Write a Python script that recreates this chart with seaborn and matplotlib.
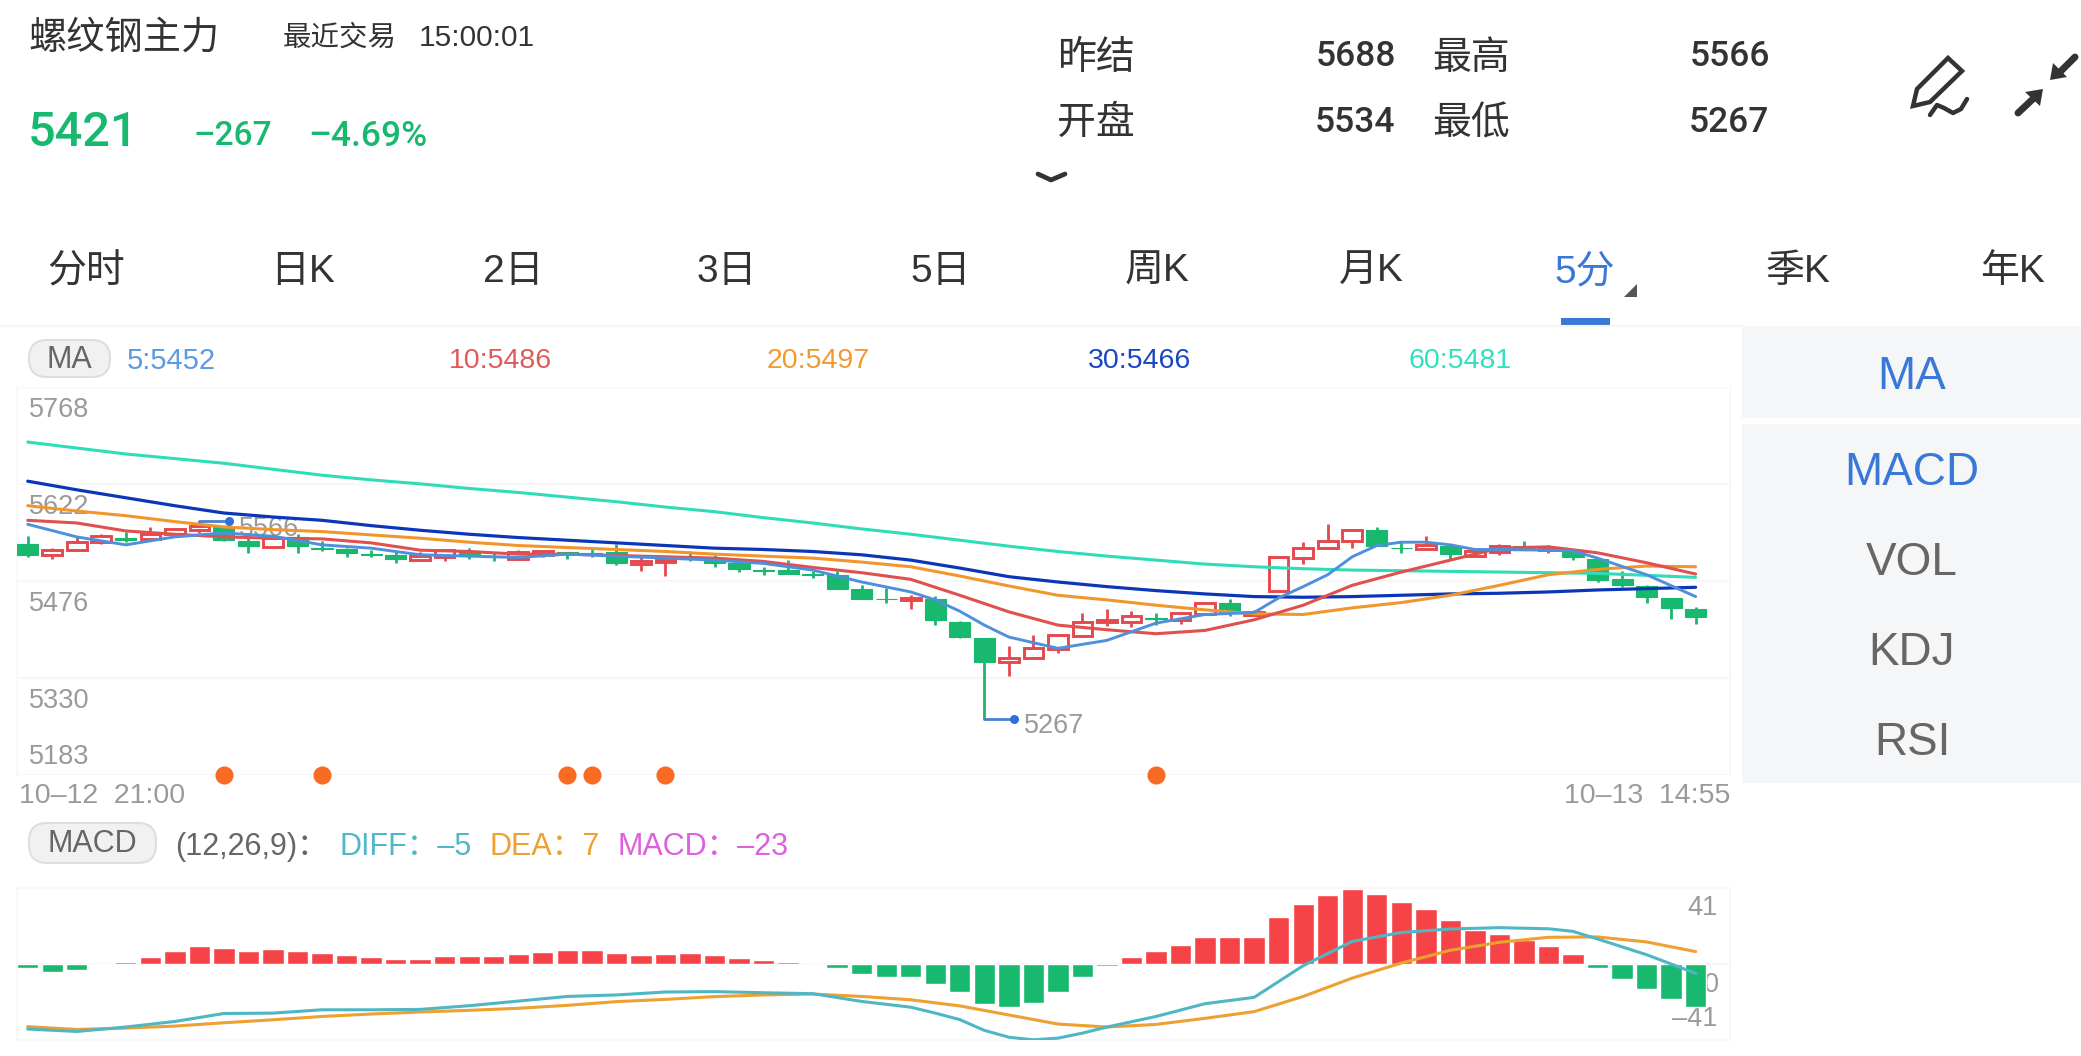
import pandas as pd
import matplotlib
matplotlib.use("Agg")
import matplotlib.pyplot as plt
from matplotlib.patches import FancyBboxPatch, Polygon, Rectangle
import seaborn as sns

W, H = 2081, 1056

# candles, one per 5 minutes
opens = [5532, 5514, 5522, 5535, 5541, 5539, 5546, 5552, 5557, 5536, 5527, 5542, 5526, 5523, 5516, 5514, 5507,
         5511, 5520, 5513, 5509, 5515, 5519, 5517, 5519, 5501, 5504, 5512, 5510, 5502, 5492, 5492, 5486, 5485,
         5463, 5449, 5447, 5448, 5414, 5390, 5354, 5359, 5373, 5393, 5413, 5414, 5419, 5417, 5425, 5442, 5424,
         5460, 5510, 5525, 5536, 5552, 5526, 5524, 5529, 5513, 5519, 5528, 5522, 5522, 5508, 5478, 5468, 5450, 5434]
closes = [5515, 5522, 5534, 5543, 5538, 5547, 5554, 5558, 5537, 5528, 5541, 5528, 5523, 5518, 5515, 5508, 5513,
          5522, 5513, 5512, 5519, 5520, 5518, 5516, 5502, 5506, 5507, 5508, 5502, 5494, 5491, 5486, 5485, 5464,
          5449, 5448, 5450, 5416, 5391, 5354, 5360, 5374, 5394, 5414, 5417, 5422, 5418, 5428, 5443, 5429, 5429,
          5511, 5525, 5536, 5553, 5528, 5525, 5530, 5516, 5520, 5528, 5522, 5526, 5511, 5477, 5470, 5451, 5435, 5421]
highs = [5543, 5526, 5544, 5547, 5549, 5557, 5555, 5566, 5558, 5540, 5542, 5547, 5536, 5525, 5522, 5520, 5519,
         5523, 5525, 5517, 5522, 5520, 5519, 5525, 5531, 5511, 5510, 5521, 5514, 5502, 5496, 5507, 5491, 5490,
         5469, 5465, 5454, 5453, 5415, 5390, 5378, 5394, 5394, 5428, 5433, 5431, 5427, 5428, 5443, 5448, 5432,
         5511, 5534, 5562, 5553, 5557, 5534, 5543, 5529, 5521, 5531, 5536, 5530, 5522, 5509, 5490, 5470, 5450, 5436]
lows = [5511, 5508, 5522, 5532, 5534, 5537, 5545, 5548, 5536, 5517, 5527, 5518, 5520, 5511, 5511, 5503, 5507,
        5505, 5509, 5506, 5507, 5511, 5509, 5512, 5500, 5491, 5483, 5505, 5496, 5489, 5484, 5486, 5480, 5464,
        5449, 5443, 5434, 5409, 5390, 5267, 5332, 5359, 5367, 5393, 5408, 5406, 5409, 5410, 5425, 5422, 5423,
        5460, 5501, 5525, 5525, 5528, 5517, 5524, 5507, 5512, 5515, 5522, 5517, 5507, 5474, 5467, 5443, 5418, 5411]

# moving averages
ma5_idx = [0, 2, 4, 6, 8, 10, 12, 14, 16, 18, 20, 22, 24, 26, 28, 30, 32, 34, 36, 37, 38, 39, 40, 42, 44, 46, 48,
           50, 51, 52, 53, 54, 55, 56, 57, 58, 59, 60, 62, 63, 64, 66, 68]
ma5 = [5561, 5542, 5530, 5542, 5548, 5543, 5530, 5525, 5515, 5513, 5511, 5516, 5513, 5510, 5507, 5502, 5492, 5474,
       5459, 5447, 5430, 5409, 5391, 5374, 5386, 5412, 5425, 5428, 5450, 5467, 5485, 5512, 5529, 5534, 5534, 5530,
       5523, 5523, 5522, 5521, 5510, 5485, 5452]
ma_idx = list(range(0, 69, 2))
ma10 = [5567, 5563, 5551, 5546, 5542, 5540, 5539, 5533, 5522, 5520, 5516, 5516, 5514, 5512, 5510, 5505, 5496, 5488,
        5478, 5454, 5429, 5409, 5402, 5396, 5401, 5417, 5439, 5469, 5489, 5507, 5525, 5527, 5518, 5503, 5486]
ma20 = [5589, 5581, 5574, 5565, 5557, 5553, 5550, 5545, 5540, 5534, 5529, 5526, 5523, 5520, 5516, 5513, 5510, 5504,
        5497, 5483, 5468, 5454, 5447, 5439, 5432, 5426, 5425, 5435, 5443, 5454, 5469, 5485, 5493, 5498, 5497]
ma30 = [5626, 5613, 5601, 5589, 5578, 5572, 5567, 5559, 5552, 5546, 5541, 5537, 5533, 5529, 5525, 5523, 5520, 5515,
        5507, 5495, 5482, 5474, 5467, 5461, 5456, 5452, 5451, 5452, 5454, 5456, 5457, 5459, 5462, 5464, 5466]
ma60 = [5685, 5676, 5667, 5660, 5653, 5644, 5635, 5628, 5622, 5615, 5609, 5602, 5595, 5587, 5580, 5571, 5563, 5554,
        5546, 5537, 5528, 5520, 5513, 5507, 5501, 5497, 5494, 5492, 5491, 5490, 5489, 5488, 5487, 5484, 5481]

price_ticks = [5768, 5622, 5476, 5330, 5183]
signal_idx = [8, 12, 22, 23, 26, 46]

# MACD panel
macd = [-2.2, -4.1, -3.1, -0.4, 1.3, 4, 7.2, 9.9, 8.8, 7.2, 8.3, 7, 5.9, 4.7, 3.8, 2.7, 2.9, 4.5, 4.5, 4.5, 5.6, 6.7,
        7.4, 7.6, 5.8, 5, 5.4, 5.8, 5, 3.4, 2.2, 0.9, 0.2, -2.3, -5.6, -7, -7.2, -10.8, -15.3, -21.6, -23.2, -20.9,
        -15.1, -7.2, -1.3, 4, 6.8, 10.3, 14.4, 14.8, 14.8, 25.2, 32.6, 37.3, 40.7, 37.6, 33.5, 29.5, 23.8, 18.5,
        16.2, 13.1, 9.5, 5.4, -2, -7.9, -13.7, -18.9, -23.2]
diff_idx = [0, 2, 4, 6, 8, 10, 12, 14, 16, 18, 20, 22, 24, 26, 28, 30, 32, 34, 36, 37, 38, 39, 40, 41, 42, 43, 44, 46,
            48, 50, 52, 54, 56, 58, 60, 62, 63, 64, 66, 68]
diff = [-35.1, -36.4, -34, -31, -26.7, -26.5, -24.7, -24.7, -24.5, -22.5, -20, -17.5, -16.7, -15.1, -14.9, -15.5, -16,
        -20.2, -23.3, -26.5, -30, -35.8, -39.5, -40.9, -40, -37.3, -34, -28.3, -21.4, -18, -0.9, 12.2, 17, 18.9, 19.6,
        19, 17.6, 13.5, 5, -5]
dea = [-33.8, -35.3, -34.6, -33.5, -31.7, -30.1, -28.3, -27, -25.9, -25, -23.9, -22.3, -20.3, -19.1, -17.6, -16.7,
       -16.2, -17.5, -19.3, -22.6, -27.5, -32.4, -34, -32.6, -29.3, -25.7, -17.5, -7.6, 0.5, 7.4, 11.7, 14.4, 14.6,
       11.9, 6.7]

tabs = ["分时", "日K", "2日", "3日", "5日", "周K", "月K", "5分", "季K", "年K"]
tab_x = [86, 303, 513, 727, 941, 1157, 1371, 1585, 1798, 2013]

GREEN = "#19b86f"
RED = "#e5484d"
BAR_RED = "#f64347"
BLUE = "#3a78d8"
GRID = "#f7f7f7"
DARK = "#333333"
GREY = "#9a9a9a"
NUM_FONT = ["Roboto", "Noto Sans CJK SC", "DejaVu Sans"]

sns.set_theme(style="white")
plt.rcParams["font.family"] = ["Liberation Sans", "Noto Sans CJK SC", "DejaVu Sans"]

fig = plt.figure(figsize=(W / 100, H / 100), dpi=100, facecolor="white")


def panel(x0, y0, x1, y1):
    a = fig.add_axes([x0 / W, 1 - y1 / H, (x1 - x0) / W, (y1 - y0) / H])
    a.patch.set_alpha(0)
    return a


# page in pixel coordinates, for the app chrome around the chart
bg = panel(0, 0, W, H)
bg.set_xlim(0, W)
bg.set_ylim(H, 0)
bg.axis("off")


def label(x, y, s, size, color=DARK, ha="left", **kw):
    bg.text(x, y + 3, s, fontsize=size, color=color, ha=ha, va="center", **kw)


label(28, 36, "螺纹钢主力", 27.5)
label(283, 35, "最近交易", 20.5)
label(419, 35, "15:00:01", 21.5)
label(28, 130, "5421", 35, GREEN, family=NUM_FONT, weight=500)
label(193, 133, "–267", 24, GREEN, family=NUM_FONT, weight=500)
label(308, 133, "–4.69%", 25.5, GREEN, family=NUM_FONT, weight=500)
label(1057, 56, "昨结", 28)
label(1057, 121, "开盘", 28)
label(1432, 56, "最高", 28)
label(1432, 121, "最低", 28)
label(1396, 54, "5688", 25.5, ha="right", family=NUM_FONT, weight=500)
label(1395, 119, "5534", 25.5, ha="right", family=NUM_FONT, weight=500)
label(1770, 54, "5566", 25.5, ha="right", family=NUM_FONT, weight=500)
label(1769, 119, "5267", 25.5, ha="right", family=NUM_FONT, weight=500)

# chevron, pencil and collapse icons
bg.plot([1038, 1051, 1065], [174, 180, 174], color=DARK, lw=3.4, solid_capstyle="round")
bg.add_patch(Polygon([(1948, 58), (1962, 71), (1930, 102), (1913, 106), (1917, 89)], closed=True, fill=False,
                     edgecolor=DARK, lw=3.2))
bg.plot([1930, 1937, 1944, 1953, 1961, 1967], [115, 105, 108, 113, 109, 99], color=DARK, lw=3.2,
        solid_capstyle="round")
bg.add_patch(Polygon([(2050, 80), (2053, 63), (2067, 77)], closed=True, color=DARK, lw=0))
bg.plot([2060, 2075], [72, 57], color=DARK, lw=5)
bg.add_patch(Polygon([(2043, 89), (2025, 92), (2040, 106)], closed=True, color=DARK, lw=0))
bg.plot([2035, 2018], [97, 113], color=DARK, lw=5)

for name, tx in zip(tabs, tab_x):
    label(tx, 269, name, 28, BLUE if name == "5分" else DARK, ha="center")
bg.add_patch(Polygon([(1637, 284), (1637, 297), (1624, 297)], closed=True, color="#555555", lw=0))
bg.add_patch(Rectangle((1561, 318), 49, 7, color=BLUE, lw=0))
bg.plot([0, 1742], [326, 326], color=GRID, lw=1.5)

# side menu
bg.add_patch(Rectangle((1742, 326), W - 1742, 92, color="#f5f6f8", lw=0))
bg.add_patch(Rectangle((1742, 424), W - 1742, 359, color="#f5f6f8", lw=0))
label(1912, 374, "MA", 33, BLUE, ha="center")
label(1912, 470, "MACD", 33, BLUE, ha="center")
label(1912, 560, "VOL", 33, "#666666", ha="center")
label(1912, 650, "KDJ", 33, "#666666", ha="center")
label(1912, 740, "RSI", 33, "#666666", ha="center")

# indicator pills and readouts
for px0, py0, px1, py1, txt in [(29, 340, 110, 377, "MA"), (29, 823, 156, 863, "MACD")]:
    bg.add_patch(FancyBboxPatch((px0, py0), px1 - px0, py1 - py0, boxstyle="round,pad=0,rounding_size=18",
                                facecolor="#f1f1f1", edgecolor="#dedede", lw=1.5))
    label((px0 + px1) / 2, (py0 + py1) / 2 - 2, txt, 22, "#666666", ha="center")
label(127, 358, "5:5452", 21, "#5b9be0")
label(449, 358, "10:5486", 20.5, "#e15a5a")
label(767, 358, "20:5497", 20.5, "#f09a30")
label(1088, 358, "30:5466", 20.5, "#1a45c0")
label(1409, 358, "60:5481", 20.5, "#30e0c0")
label(175, 844, "(12,26,9)：", 22, "#666666")
label(339, 844, "DIFF：–5", 22, "#4fb8c8")
label(490, 844, "DEA：7", 22, "#eea030")
label(617, 844, "MACD：–23", 22, "#df5fdf")
label(19, 793, "10–12  21:00", 20.5, GREY)
label(1730, 793, "10–13  14:55", 20.5, GREY, ha="right")

# price panel
ax = panel(17, 387, 1730, 775)
candles = pd.DataFrame({"open": opens, "close": closes, "high": highs, "low": lows})
candles["i"] = candles.index
up = candles[candles["close"] >= candles["open"]]
down = candles[candles["close"] < candles["open"]]

ax.vlines(up["i"], up["low"], up["high"], color=RED, lw=2, zorder=2)
ax.vlines(down["i"], down["low"], down["high"], color=GREEN, lw=2, zorder=2)
ax.bar(up["i"], up["close"] - up["open"], bottom=up["open"], width=0.8, facecolor="white", edgecolor=RED, lw=2.1,
       zorder=3)
ax.bar(down["i"], down["close"] - down["open"], bottom=down["open"], width=0.86, facecolor=GREEN, edgecolor=GREEN,
       lw=0.8, zorder=3)

for idx, vals, col, lw in [(ma_idx, ma60, "#2fdcb8", 2.2),
                           (ma_idx, ma30, "#0b36b8", 2.3),
                           (ma_idx, ma20, "#f0962d", 2.2),
                           (ma_idx, ma10, "#e0504f", 2.2),
                           (ma5_idx, ma5, "#4f90dc", 2.1)]:
    sns.lineplot(x=idx, y=vals, ax=ax, color=col, lw=lw, zorder=4, legend=False)

# highest and lowest price markers
hi_i = highs.index(max(highs))
lo_i = lows.index(min(lows))
for i, p, dy in [(hi_i, highs[hi_i], -8), (lo_i, lows[lo_i], -7)]:
    ax.plot([i, i + 1.22], [p, p], color="#4a80d0", lw=2, zorder=5)
    ax.plot([i + 1.22], [p], "o", color="#2f6fdc", ms=6.5, mew=0, zorder=6)
    ax.annotate(str(p), (i + 1.22, p), xytext=(10, dy), textcoords="offset pixels", fontsize=19.5, color=GREY,
                va="center", zorder=3)

sns.scatterplot(x=signal_idx, y=[price_ticks[-1]] * len(signal_idx), ax=ax, color="#f96a23", s=170, linewidth=0,
                zorder=6, clip_on=False, legend=False)

for k, p in enumerate(price_ticks):
    ax.axhline(p, color=GRID, lw=1.5, zorder=0)
    ax.annotate(str(p), (0, p), xycoords=("axes fraction", "data"), xytext=(12, 18 if k == 4 else -23),
                textcoords="offset pixels", fontsize=19.5, color=GREY, va="center", zorder=1)

ax.set_xlim(-0.436, 69.4)
ax.set_ylim(price_ticks[-1], price_ticks[0])
ax.set_xticks([])
ax.set_yticks([])
ax.set_xlabel("")
ax.set_ylabel("")
for s in ["top", "bottom"]:
    ax.spines[s].set_visible(False)
for s in ["left", "right"]:
    ax.spines[s].set_color(GRID)
    ax.spines[s].set_linewidth(1.2)

# MACD panel
ax2 = panel(17, 888, 1730, 1040)
df_macd = pd.DataFrame({"i": range(len(macd)), "macd": macd})
df_macd["side"] = ["up" if v >= 0 else "down" for v in macd]
sns.barplot(data=df_macd, x="i", y="macd", hue="side", palette={"up": BAR_RED, "down": GREEN}, dodge=False,
            native_scale=True, width=0.87, saturation=1, ax=ax2, legend=False, zorder=2)
sns.lineplot(x=ma_idx, y=dea, ax=ax2, color="#eea030", lw=2.2, zorder=4, legend=False)
sns.lineplot(x=diff_idx, y=diff, ax=ax2, color="#4fb6c4", lw=2.2, zorder=5, legend=False)
ax2.axhline(0, color=GRID, lw=1.5, zorder=1)
ax2.set_xlim(-0.436, 69.4)
ax2.set_ylim(-41, 41)
ax2.set_xticks([])
ax2.set_yticks([])
ax2.set_xlabel("")
ax2.set_ylabel("")
for s in ax2.spines.values():
    s.set_color(GRID)
    s.set_linewidth(1.2)

label(1718, 905, "41", 19.5, GREY, ha="right")
label(1719, 982, "0", 19.5, GREY, ha="right")
label(1718, 1016, "–41", 19.5, GREY, ha="right")

fig.savefig("out.png", dpi=100)
